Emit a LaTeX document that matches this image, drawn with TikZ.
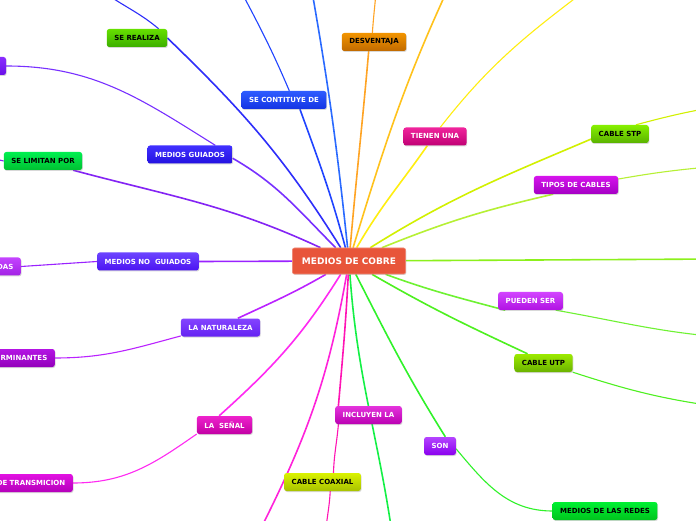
\documentclass[tikz,border=0pt]{standalone}
\usepackage{fontspec}
\setsansfont{DejaVu Sans}
\usepackage{tikz}
\usetikzlibrary{positioning,shadows,backgrounds}
% --- node colours (top / bottom of the shading)
\definecolor{hubred}{HTML}{E8553A}
\definecolor{srA}{HTML}{66E000}  \definecolor{srB}{HTML}{3CAE00}
\definecolor{lpA}{HTML}{8A2CFF}  \definecolor{lpB}{HTML}{6A10E8}
\definecolor{slpA}{HTML}{00F050} \definecolor{slpB}{HTML}{00C032}
\definecolor{mgA}{HTML}{4030FF}  \definecolor{mgB}{HTML}{2412E0}
\definecolor{scdA}{HTML}{2E5CFF} \definecolor{scdB}{HTML}{1434E4}
\definecolor{dsA}{HTML}{F29400}  \definecolor{dsB}{HTML}{C06A00}
\definecolor{tuA}{HTML}{F0249C}  \definecolor{tuB}{HTML}{C00074}
\definecolor{stA}{HTML}{86F000}  \definecolor{stB}{HTML}{5AB200}
\definecolor{tcA}{HTML}{D614EC}  \definecolor{tcB}{HTML}{A400C4}
\definecolor{mngA}{HTML}{6C44FF} \definecolor{mngB}{HTML}{4C14F2}
\definecolor{dasA}{HTML}{C444FF} \definecolor{dasB}{HTML}{A222E4}
\definecolor{lnA}{HTML}{8444FF}  \definecolor{lnB}{HTML}{6422F2}
\definecolor{rmA}{HTML}{B414E4}  \definecolor{rmB}{HTML}{9200BA}
\definecolor{lsA}{HTML}{EE22CC}  \definecolor{lsB}{HTML}{C200A4}
\definecolor{dtA}{HTML}{E212E2}  \definecolor{dtB}{HTML}{B400BA}
\definecolor{inA}{HTML}{E434DC}  \definecolor{inB}{HTML}{BA00B2}
\definecolor{cxA}{HTML}{DAF200}  \definecolor{cxB}{HTML}{A8C200}
\definecolor{snA}{HTML}{B444FF}  \definecolor{snB}{HTML}{8A00EE}
\definecolor{mdA}{HTML}{00F032}  \definecolor{mdB}{HTML}{00C41E}
\definecolor{psA}{HTML}{D244FF}  \definecolor{psB}{HTML}{B012E2}
\definecolor{utA}{HTML}{9CEA00}  \definecolor{utB}{HTML}{6AB200}
% --- branch colours
\definecolor{eSR}{HTML}{2E2EFA}  \definecolor{eMG}{HTML}{7830FF}
\definecolor{eSLP}{HTML}{8424F4} \definecolor{eSCD}{HTML}{2044FF}
\definecolor{eBL}{HTML}{2A6AFF}  \definecolor{eDS}{HTML}{FFA424}
\definecolor{eOR}{HTML}{FFC21C}  \definecolor{eTU}{HTML}{FFEE10}
\definecolor{eST}{HTML}{D2F000}  \definecolor{eTC}{HTML}{B6F034}
\definecolor{eRT}{HTML}{8CF01C}  \definecolor{ePS}{HTML}{6EF232}
\definecolor{eUT}{HTML}{4EF020}  \definecolor{eSN}{HTML}{30F22A}
\definecolor{eGR}{HTML}{14F046}  \definecolor{eIN}{HTML}{FF14B4}
\definecolor{ePK}{HTML}{FF22DA}  \definecolor{eLS}{HTML}{FF2AF2}
\definecolor{eLN}{HTML}{BA22FF}  \definecolor{eMN}{HTML}{9A22FF}
\tikzset{
  % --- nodes
  tag/.style   = {rounded corners=2.5pt, align=center, inner xsep=7.5pt, inner ysep=0pt,
                  minimum height=18pt, font=\sffamily\bfseries\fontsize{7}{8}\selectfont,
                  drop shadow={shadow xshift=.7pt, shadow yshift=-1pt, opacity=.3}},
  lt/.style 2 args = {tag, top color=#1, bottom color=#2, text=white},
  dk/.style 2 args = {tag, top color=#1, bottom color=#2, text=black},
  clipped/.style = {anchor=east, text width=60pt, align=right},
  hub/.style   = {rounded corners=2pt, fill=hubred, draw=hubred!70!white, line width=.6pt,
                  text=white, inner xsep=9.5pt, inner ysep=0pt, minimum height=26pt,
                  font=\sffamily\bfseries\fontsize{9}{10}\selectfont,
                  drop shadow={shadow xshift=.7pt, shadow yshift=-1pt, opacity=.3}},
  % --- edges
  br/.style    = {line width=1.6pt, draw=#1},
  tw/.style    = {line width=1.1pt, draw=#1},
}
\begin{document}
\begin{tikzpicture}[x=1pt,y=1pt]
  \useasboundingbox (0,0) rectangle (696,520);
  \clip (0,0) rectangle (696,520);
  \node[hub] (root) at (349,259) {MEDIOS DE COBRE};
  \node[dk={srA}{srB}] (real) at (137,482) {SE REALIZA};
  \node[lt={lpA}{lpB}, minimum width=40pt] (lp) at (-14,454) {};
  \node[dk={slpA}{slpB}] (lim) at (43,359) {SE LIMITAN POR};
  \node[lt={mgA}{mgB}] (guid) at (190,365.5) {MEDIOS GUIADOS};
  \node[lt={scdA}{scdB}] (cons) at (284,420) {SE CONTITUYE DE};
  \node[dk={dsA}{dsB}] (desv) at (374,478) {DESVENTAJA};
  \node[lt={tuA}{tuB}] (tien) at (435,383.5) {TIENEN UNA};
  \node[dk={stA}{stB}] (stp) at (620,386) {CABLE STP};
  \node[lt={tcA}{tcB}] (tipos) at (576,335) {TIPOS DE CABLES};
  \node[lt={mngA}{mngB}] (noguid) at (148,258.5) {MEDIOS NO\ \ GUIADOS};
  \node[lt={dasA}{dasB}, clipped] (das) at (21,253.5) {DAS};
  \node[lt={lnA}{lnB}] (nat) at (220.5,192.5) {LA NATURALEZA};
  \node[lt={rmA}{rmB}, clipped] (determ) at (55,162) {RMINANTES};
  \node[lt={lsA}{lsB}] (senal) at (224.5,95) {LA\ \ SEÑAL};
  \node[lt={dtA}{dtB}, clipped, text width=80pt] (trans) at (73,37) {DE TRANSMICION};
  \node[lt={inA}{inB}] (incl) at (368.5,105) {INCLUYEN LA};
  \node[dk={cxA}{cxB}] (coax) at (322.5,38) {CABLE COAXIAL};
  \node[lt={snA}{snB}] (son) at (440,74) {SON};
  \node[dk={mdA}{mdB}] (redes) at (605,9) {MEDIOS DE LAS REDES};
  \node[lt={psA}{psB}] (pueden) at (530.5,219) {PUEDEN SER};
  \node[dk={utA}{utB}] (utp) at (543.5,157) {CABLE UTP};
  % off-page ends
  \coordinate (sr2) at (95,535);     \coordinate (lim2) at (-20,368);
  \coordinate (cons2) at (235,540);  \coordinate (top1) at (310,540);
  \coordinate (desv2) at (377,540);  \coordinate (top2) at (452,540);
  \coordinate (tien2) at (590,533);  \coordinate (stp2) at (720,414);
  \coordinate (tipos2) at (720,354); \coordinate (right1) at (720,261);
  \coordinate (pueden2) at (720,183);\coordinate (utp2) at (720,113);
  \coordinate (bot1) at (393,-20);   \coordinate (coax2) at (325,-20);
  \coordinate (bot2) at (256,-18);
  \begin{pgfonlayer}{background}
    \fill[white] (0,0) rectangle (696,520);
    \draw[br=eSR] (root) to[out=122,in=-44] (real.east);
    \draw[tw=eSR] (real.23) to[out=140,in=-40] (sr2);
    \draw[br=eMG] (root) to[out=135,in=-30] (guid.-5);
    \draw[tw=eMG] (guid.20) to[out=148,in=0] (lp.east);
    \draw[br=eSLP] (root) to[out=155,in=-15] (lim.-17);
    \draw[tw=eSLP] (lim.west) to[out=170,in=-10] (lim2);
    \draw[br=eSCD] (root) to[out=105,in=-70] (cons.-30);
    \draw[tw=eSCD] (cons.60) to[out=113,in=-62] (cons2);
    \draw[br=eBL] (root) to[out=96,in=-80] (top1);
    \draw[br=eDS] (root) to[out=85,in=-95] (desv.-120);
    \draw[tw=eDS] (desv.100) to[out=86,in=-94] (desv2);
    \draw[br=eOR] (root) to[out=73,in=-115] (top2);
    \draw[br=eTU] (root) to[out=60,in=-125] (tien.-130);
    \draw[tw=eTU] (tien.60) to[out=52,in=-143] (tien2);
    \draw[br=eST] (root) to[out=32,in=-157] (stp.190);
    \draw[tw=eST] (stp.30) to[out=15,in=-170] (stp2);
    \draw[br=eTC] (root) to[out=22,in=-167] (tipos.-158);
    \draw[tw=eTC] (tipos.8) to[out=10,in=-175] (tipos2);
    \draw[br=eRT] (root) -- (right1);
    \draw[br=ePS] (root) to[out=-20,in=165] (pueden.-160);
    \draw[tw=ePS] (pueden.-20) to[out=-10,in=175] (pueden2);
    \draw[br=eUT] (root) to[out=-30,in=155] (utp.150);
    \draw[tw=eUT] (utp.south east) to[out=-18,in=172] (utp2);
    \draw[br=eSN] (root) to[out=-63,in=122] (son.60);
    \draw[tw=eSN] (son.-10) to[out=-50,in=180] (redes.west);
    \draw[br=eGR] (root) to[out=-86,in=98] (bot1);
    \draw[br=eIN] (root) to[out=-93,in=85] (incl.163);
    \draw[tw=eIN] (incl.-163) to[out=-95,in=88] (coax.40);
    \draw[tw=eIN] (coax.-50) to[out=-93,in=87] (coax2);
    \draw[br=ePK] (root) to[out=-100,in=63] (bot2);
    \draw[br=eLS] (root) to[out=-122,in=42] (senal.120);
    \draw[tw=eLS] (senal.-162) to[out=-145,in=0] (trans.east);
    \draw[br=eLN] (root) to[out=-150,in=25] (nat.28);
    \draw[tw=eLN] (nat.-168) to[out=-165,in=0] (determ.east);
    \draw[br=eMN] (root) -- (noguid.east);
    \draw[tw=eMN] (noguid.west) -- (das.east);
  \end{pgfonlayer}
\end{tikzpicture}
\end{document}
